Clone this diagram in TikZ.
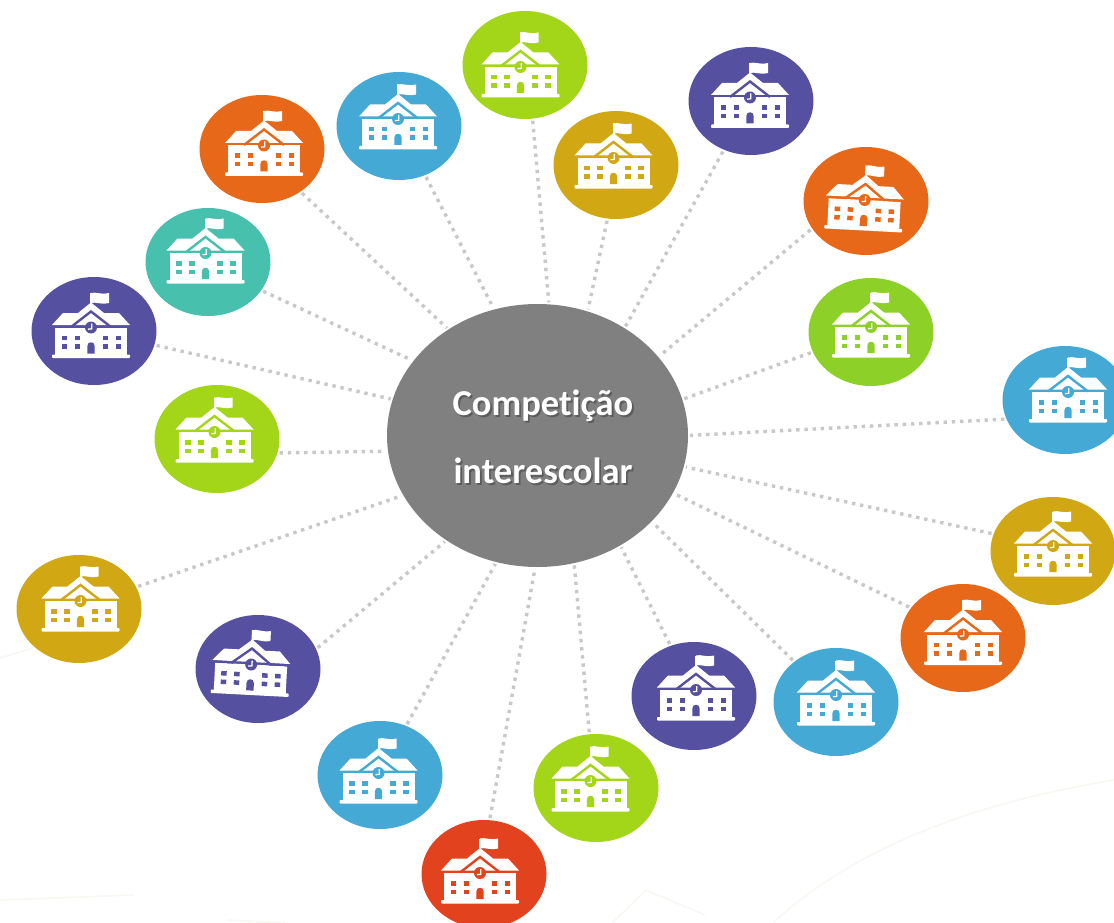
\documentclass[tikz,border=0pt]{standalone}
\usepackage{fontspec}
\setmainfont[Ligatures=NoCommon]{Carlito}
\usetikzlibrary{shapes.geometric}
\definecolor{cpurple}{HTML}{5650A0}
\definecolor{cblue}{HTML}{45A9D5}
\definecolor{cgreen}{HTML}{A3D518}
\definecolor{clime}{HTML}{8CD028}
\definecolor{cteal}{HTML}{47C1AD}
\definecolor{corange}{HTML}{E8681A}
\definecolor{cgold}{HTML}{D1A714}
\definecolor{cred}{HTML}{E2431E}
\definecolor{cdot}{HTML}{C8C8C8}
\definecolor{cfaint}{HTML}{F7F8F2}
\tikzset{
  sat/.style={ellipse,draw=none,inner sep=0pt,minimum width=125pt,minimum height=108pt},
  hub/.style={ellipse,draw=none,inner sep=0pt,minimum width=301pt,minimum height=263pt,fill=black!50},
  hubtext/.style={align=center,font=\fontsize{36.5}{68}\selectfont\bfseries,inner sep=0pt},
  link/.style={draw=cdot,line width=3.4pt,dash pattern=on 3.4pt off 4.8pt,shorten <=2pt,shorten >=2pt},
  sketch/.style={draw=cfaint,line width=1.5pt},
  pics/school/.style={code={
    % flag and pole
    \fill[white] (-1,-38) rectangle (1,-22);
    \fill[white] (0,-38) .. controls (5,-39.5) and (9,-36) .. (18,-38) -- (18,-28) .. controls (9,-26) and (5,-29.5) .. (0,-28) -- cycle;
    % roof
    \fill[white] (-39,-6) -- (-28,-18) -- (-13,-18) -- (0,-28.5) -- (13,-18) -- (28,-18) -- (39,-6) -- cycle;
    % body and base
    \fill[white] (-36,-3.5) rectangle (36,24);
    \fill[white,rounded corners=0.8pt] (-39,23.5) rectangle (39,27);
    % gap under roof
    \fill[#1] (-39,-5.5) rectangle (-18,-3.5);
    \fill[#1] (18,-5.5) rectangle (39,-3.5);
    % gable chevron
    \draw[#1,line width=2.4pt,line join=miter] (-20,-4) -- (0,-19.5) -- (20,-4);
    % clock
    \fill[#1] (0,-3.5) circle (6pt);
    \draw[white,line width=1.3pt] (0.8,-7.5) -- (0.8,-2.2) -- (-3,-1.8);
    % windows
    \foreach \wx in {-29.5,-16.5,11.5,24.5} {
      \fill[#1] (\wx,4.5) rectangle ++(5.5,4.5);
      \fill[#1] (\wx,13) rectangle ++(5.5,4.5);
    }
    % door
    \fill[#1] (-3.7,22.5) -- (-3.7,15) .. controls (-3.7,10) and (3.7,10) .. (3.7,15) -- (3.7,22.5) -- cycle;
  }}
}
\begin{document}
\begin{tikzpicture}[x=1pt,y=-1pt]
\useasboundingbox (0,0) rectangle (1114,923);
\clip (0,0) rectangle (1114,923);
\fill[white] (0,0) rectangle (1114,923);
% faint background sketch
\draw[sketch] (773,923) .. controls (830,870) and (930,810) .. (1114,780);
\draw[sketch] (612,923) -- (646,890) -- (705,915);
\draw[sketch] (0,900) -- (133,895);
\draw[sketch] (227,920) -- (285,923);
\draw[sketch] (0,658) -- (33,648);
% hub
\node[hub] (hub) at (537.5,435.5) {};
\node[hubtext,text=black!75,opacity=.55] (hubshadow) at (544.8,438.8) {Competição\\interescolar};
\node[hubtext,text=white] (hubtitle) at (543,437) {Competição\\interescolar};
% id / x / y / colour / icon rotation / icon dx / icon dy / outer end / inner end
\foreach \i/\x/\y/\col/\rot/\ax/\ay/\ox/\oy/\ix/\iy in {
  1/525/65/cgreen/0/-4.5/5.5/533/122/548/303,
  2/616/165/cgold/0/-2.5/-3.5/606/222/590/305,
  3/751/101/cpurple/0/-1/0/720/155/627/323,
  4/866/201/corange/-3/-1.5/2.5/806/231/662/352,
  5/871/332/clime/0/0/-1.5/810/352/685/396,
  6/1065/400/cblue/0/3/-4.5/1002/420/692/435,
  7/1053/551/cgold/0/0/-1.5/990/533/690/468,
  8/963/638/corange/0/0/0/905/605/680/496,
  9/836/702/cblue/0/0/-3.5/792/660/655/527,
  10/694/696/cpurple/0/2/-2.5/667/640/620/548,
  11/596/788/cgreen/0/-5.5/-3.5/589/733/575/570,
  12/484/874/cred/0/-4/2.5/489/820/535/568,
  13/380/775/cblue/0/-1.5/1.5/408/722/495/565,
  14/258/669/cpurple/-3/-7/-1/318/648/445/540,
  15/79/609/cgold/0/1.5/-4.5/141/585/397/497,
  16/217/439/cgreen/0/-2.5/-3.5/282/455/385/449,
  17/94/331/cpurple/0/-3/0/160/347/392/400,
  18/208/262/cteal/0/-2.5/-5.5/264/292/411/362,
  19/262/149/corange/0/2/0/302/195/445/327,
  20/399/126/cblue/0/-1/-3.5/428/182/493/307%
}{
  \node[sat,fill=\col] (s\i) at (\x,\y) {};
  \pic[rotate=\rot] at (\x+\ax,\y+\ay) {school={\col}};
  \pgfmathsetmacro{\oa}{atan2(\y-\oy,\ox-\x)}
  \pgfmathsetmacro{\ia}{atan2(435.5-\iy,\ix-537.5)}
  \draw[link] (s\i.\oa) -- (hub.\ia);
}
\end{tikzpicture}
\end{document}
